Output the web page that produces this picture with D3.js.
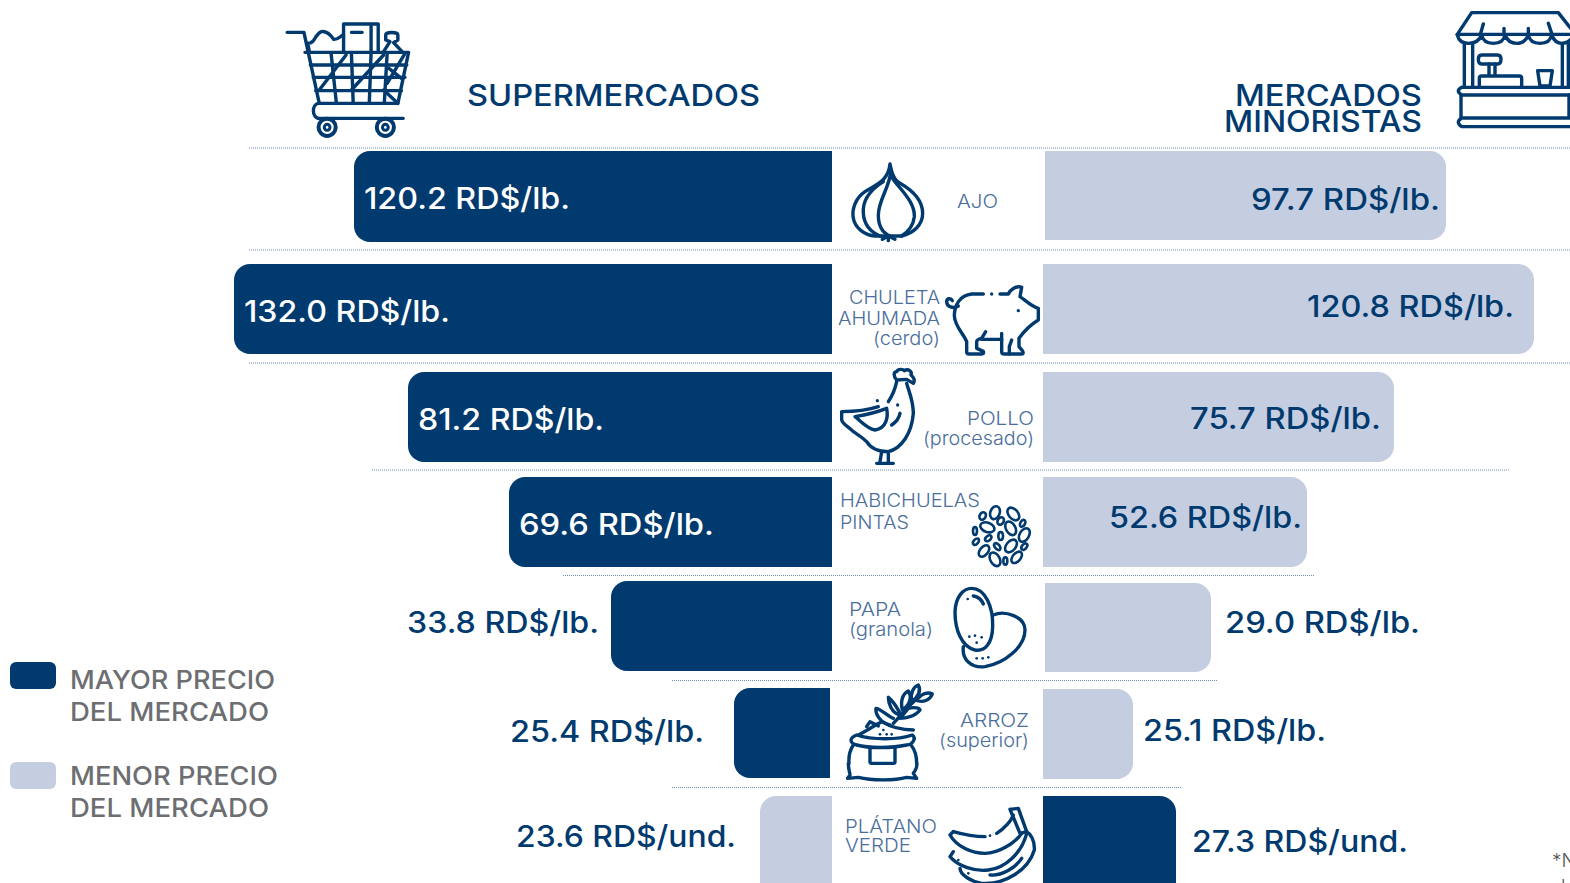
<!DOCTYPE html>
<html><head><meta charset="utf-8">
<script src="https://cdn.jsdelivr.net/npm/d3@7"></script>
<style>html,body{margin:0;background:#fff;overflow:hidden}svg{display:block}text{font-family:Inter,"Open Sans",sans-serif}</style>
</head><body><div id="c"></div>
<script>
// ---------- data ----------
const categories = ["AJO","CHULETA AHUMADA (cerdo)","POLLO (procesado)","HABICHUELAS PINTAS","PAPA (granola)","ARROZ (superior)","PLÁTANO VERDE"];
const supermercados = [120.2,132.0,81.2,69.6,33.8,25.4,23.6];
const minoristas = [97.7,120.8,75.7,52.6,29.0,25.1,27.3];
const unidades = ["RD$/lb.","RD$/lb.","RD$/lb.","RD$/lb.","RD$/lb.","RD$/lb.","RD$/und."];
const categoryLines = [["AJO"],["CHULETA","AHUMADA","(cerdo)"],["POLLO","(procesado)"],["HABICHUELAS","PINTAS"],["PAPA","(granola)"],["ARROZ","(superior)"],["PLÁTANO","VERDE"]];
const legendItems = [["MAYOR PRECIO","DEL MERCADO"],["MENOR PRECIO","DEL MERCADO"]];

// ---------- layout ----------
const W=1570,H=883,DARK="#003a6e",LIGHT="#c5cee1",LABEL="#4a6e9b",GREY="#6d6e72";
const svg=d3.select("#c").append("svg").attr("width",W).attr("height",H).attr("viewBox",`0 0 ${W} ${H}`);
// The source bars are not drawn to a common linear ratio: piecewise scales follow the picture.
const xL=d3.scaleLinear().domain([23.6,25.4,33.8,69.6,81.2,120.2,132.0]).range([760,734,611,509,408,354,234]);
const xR=d3.scaleLinear().domain([25.1,27.3,29.0,52.6,75.7,97.7,120.8]).range([1133,1176,1211,1307,1394,1446,1534]);
const baseL=d3.scaleOrdinal(categories,[832,832,832,832,832,830,832]);
const baseR=d3.scaleOrdinal(categories,[1045,1043,1043,1043,1045,1043,1043]);
const topL=d3.scaleOrdinal(categories,[151,264,372,477,581,688,796]);
const botL=d3.scaleOrdinal(categories,[242,354,462,567,671,778,905]);
const topR=d3.scaleOrdinal(categories,[151,264,372,477,583,689,796]);
const botR=d3.scaleOrdinal(categories,[240,354,462,567,672,779,905]);
const valPosL=[[364,209,206],[244,322,206],[418,430,186],[519,535,195],[407,633,192],[510,742,194],[516,847,220]];
const valPosR=[[1251,210,189],[1307,317,207],[1190,429,191],[1109,528,193],[1225,633,195],[1143,741,183],[1192,852,216]];
const labelPos=[
 {a:"start",x:957,y:[208],w:[41]},
 {a:"end",x:940,y:[304,325,345],w:[91,102,67]},
 {a:"end",x:1034,y:[425,445],w:[67,111]},
 {a:"start",x:840,y:[507,529],w:[140,69]},
 {a:"start",x:849,y:[616,636],w:[52,84]},
 {a:"end",x:1029,y:[727,747],w:[69,90]},
 {a:"start",x:845,y:[833,852],w:[92,66]}];
const seps=[[249,1570,148],[249,1570,250],[249,1570,363],[372,1509,470],[563,1315,575.5],[672,1217,680.5],[672,1181,787.5]];

// ---------- helpers ----------
function txt(s,x,y,size,weight,fill,w,anchor){
  const t=svg.append("text").attr("x",x).attr("y",y).attr("font-size",size).attr("font-weight",weight)
    .attr("fill",fill).attr("text-anchor",anchor||"start").text(s);
  if(w)t.attr("textLength",w).attr("lengthAdjust","spacingAndGlyphs");
  return t;
}
function barPath(x0,x1,y0,y1,r){ // x0 = square base, x1 = rounded end
  const p=d3.path();
  p.moveTo(x0,y0);p.arcTo(x1,y0,x1,y0+r,r);p.arcTo(x1,y1,x0,y1,r);p.lineTo(x0,y1);p.closePath();
  return p.toString();
}

// ---------- separators ----------
svg.append("g").selectAll("line").data(seps).join("line")
  .attr("x1",d=>d[0]).attr("x2",d=>d[1]).attr("y1",d=>d[2]).attr("y2",d=>d[2])
  .attr("stroke","#6f8bb5").attr("stroke-width",1).attr("stroke-dasharray","1 1");

// ---------- bars ----------
const rows=categories.map((c,i)=>({c,i,s:supermercados[i],m:minoristas[i],u:unidades[i]}));
svg.append("g").selectAll("path").data(rows).join("path")
  .attr("d",d=>barPath(baseL(d.c),xL(d.s),topL(d.c),botL(d.c),16))
  .attr("fill",d=>d.s>=d.m?DARK:LIGHT);
svg.append("g").selectAll("path").data(rows).join("path")
  .attr("d",d=>barPath(baseR(d.c),xR(d.m),topR(d.c),botR(d.c),16))
  .attr("fill",d=>d.m>d.s?DARK:LIGHT);

// ---------- value labels ----------
rows.forEach(d=>{
  const L=valPosL[d.i],R=valPosR[d.i];
  const inL=L[0]>xL(d.s);
  txt(`${d.s.toFixed(1)} ${d.u}`,L[0],L[1],30,500,inL?"#fff":DARK,L[2]);
  txt(`${d.m.toFixed(1)} ${d.u}`,R[0],R[1],30,500,DARK,R[2]);
});

// ---------- category labels ----------
categoryLines.forEach((ls,i)=>{
  const p=labelPos[i];
  ls.forEach((s,j)=>txt(s,p.x,p.y[j],18.5,300,LABEL,p.w[j],p.a));
});

// ---------- headers ----------
txt("SUPERMERCADOS",467,106,30,500,DARK,293);
txt("MERCADOS",1422,106,30,500,DARK,187,"end");
txt("MINORISTAS",1422,132,30,500,DARK,198,"end");

// ---------- legend ----------
[[662,DARK,689],[762,LIGHT,785]].forEach(([y,c,b],i)=>{
  svg.append("rect").attr("x",10).attr("y",y).attr("width",46).attr("height",27).attr("rx",6).attr("fill",c);
  txt(legendItems[i][0],70,b,26,500,GREY,i?208:205);
  txt(legendItems[i][1],70,b+32,26,500,GREY,199);
});

// ---------- clipped footnote ----------
txt("*Nota",1552,867,19,300,"#555");
txt("l",1561,893,19,300,"#555");

// ---------- icons ----------
const SW=3.4;
function icon(tx,ty,sx,sy,paths,extra){
  const g=svg.append("g").attr("transform",`translate(${tx},${ty}) scale(${sx},${sy})`)
    .attr("fill","none").attr("stroke",DARK).attr("stroke-linecap","round").attr("stroke-linejoin","round");
  paths.forEach(d=>g.append("path").attr("d",d).attr("vector-effect","non-scaling-stroke").attr("stroke-width",SW));
  if(extra)extra(g);
  return g;
}
function dots(g,list,r){list.forEach(([x,y])=>g.append("circle").attr("cx",x).attr("cy",y).attr("r",r||5).attr("fill",DARK).attr("stroke","none"));}

// cart
icon(230,0,1/2.8,1/3,[
 "M160 97H207L250 310H470L500 157H210",
 "M250 310C228 310 228 355 250 355H485",
 "M225 195H495M233 232H490M240 272H480",
 "M283 160L298 310M340 160L345 310M395 160L390 310M440 160L432 310M490 160L440 250",
 "M325 165L250 270M430 165L340 270M445 205L480 235M430 270L470 310",
 "M318 155V72H415V155M395 72V155M340 97H370",
 "M218 130C240 130 235 105 255 95C275 92 285 110 290 118C305 120 310 105 318 105M218 130L222 155",
 "M430 155L448 125L436 120V105C436 95 470 95 470 105V120L458 128L482 155"
],g=>{
 [272,435].forEach(x=>{
  g.append("ellipse").attr("cx",x).attr("cy",382).attr("rx",24).attr("ry",26).attr("vector-effect","non-scaling-stroke").attr("stroke-width",4);
  g.append("ellipse").attr("cx",x).attr("cy",382).attr("rx",8).attr("ry",9).attr("vector-effect","non-scaling-stroke").attr("stroke-width",3);
 });
});
// stall
icon(1200,0,1/3,1/3,[
 "M772 103L815 38H1075L1120 95",
 "M772 103H1120",
 "M772 105Q778 130 805 130Q835 130 845 105Q850 130 880 130Q910 130 915 105Q925 130 950 130Q975 130 985 105Q990 130 1020 130Q1050 130 1055 105Q1065 130 1085 130Q1110 130 1120 105",
 "M850 72L842 100M912 85V100M985 85V100M1045 70L1055 100",
 "M793 130V262M818 130V262M1087 130V262M1105 130V262",
 "M845 165H893Q903 165 903 178Q903 192 893 192H845Q835 192 835 178Q835 165 845 165Z",
 "M867 192V228M885 192V228M838 258V235Q838 228 845 228H958Q965 228 965 235V258",
 "M1013 212H1057L1050 258H1020Z",
 "M785 262H1120M785 262Q765 273 785 285H1120",
 "M783 285V352M1107 285V352",
 "M785 354H1120M785 354Q765 367 785 380H1120"
]);
// garlic
icon(825,150,1/3,1/3,[
 "M195 42C190 95 150 105 120 125C90 145 80 180 85 205C90 235 120 255 150 258H230C265 250 293 225 293 190C293 150 260 120 225 100C205 90 200 65 195 42Z",
 "M175 95C135 120 112 150 115 190C117 220 135 245 165 258",
 "M197 65C195 110 160 150 160 195C160 230 175 250 195 258",
 "M200 80C215 110 270 150 268 200C265 230 250 245 230 258",
 "M190 258V272M190 258L172 268M190 258L210 268"
]);
// pig
icon(825,150,1/3,1/3,[
 "M400 468C385 478 365 470 365 455C365 445 378 443 382 452",
 "M475 432H440C405 436 388 465 388 498C390 530 415 550 425 575V605Q425 612 433 612H470Q478 612 475 604L455 595V575Q455 568 470 565L482 545",
 "M470 568H530",
 "M530 550V605Q530 612 538 612H590Q598 612 592 602L582 590V565C600 540 615 525 640 510V475C620 470 600 450 585 440L590 412C575 405 555 420 550 432H525",
 "M560 570L553 590V612"
],g=>dots(g,[[500,432],[580,482]],5));
// chicken
icon(825,150,1/3,1/3,[
 "M215 695C210 720 200 740 190 755",
 "M50 785C80 785 130 780 160 770M50 785V810C55 825 70 830 85 845C100 855 110 860 125 875C140 900 170 905 190 905C230 895 260 850 265 790C265 750 250 720 245 700",
 "M215 690C205 680 205 665 215 665C220 655 235 658 238 662C250 655 262 665 258 675C270 685 268 695 265 700L245 688Z",
 "M90 800C120 795 160 785 185 775C190 800 185 835 150 840C125 835 110 815 90 800Z",
 "M225 790C222 805 215 815 200 825",
 "M170 905L165 935M190 905V935M155 940H205"
],g=>dots(g,[[157,752],[218,765]],5));
// beans
icon(825,470,1/3,1/3,[],g=>{
 [[510,128,14,20,20],[565,132,14,22,-40],[473,138,9,12,30],[527,153,9,12,30],[593,160,7,11,30],[487,172,22,14,20],[557,175,14,22,-30],[598,195,14,22,30],[450,183,6,12,0],[527,198,7,12,0],[490,205,11,7,-40],[453,215,7,11,40],[558,228,14,22,40],[517,230,7,12,-40],[598,230,7,11,40],[477,243,12,20,40],[510,268,14,22,-30],[541,273,6,11,0],[575,262,12,20,40]]
 .forEach(([x,y,a,b,r])=>g.append("ellipse").attr("transform",`rotate(${r} ${x} ${y})`).attr("cx",x).attr("cy",y).attr("rx",a).attr("ry",b).attr("vector-effect","non-scaling-stroke").attr("stroke-width",2.6));
});
// potato
icon(825,470,1/3,1/3,[
 "M440 355C480 355 505 410 503 470C502 520 480 545 450 540C410 530 390 480 390 425C392 380 415 355 440 355Z",
 "M505 435C540 420 600 440 600 480C600 530 540 580 480 590C440 595 410 570 415 530",
 "M445 378C460 380 470 390 475 402"
],g=>dots(g,[[428,387],[433,500],[450,497],[470,502],[455,518],[455,565],[473,565],[490,562]],4));
// rice sack
icon(825,470,1/3,1/3,[
 "M95 795C140 810 220 810 262 795C275 805 262 825 245 825C200 835 130 835 95 825C75 820 70 805 95 795Z",
 "M100 795C130 780 150 765 170 755C195 770 230 780 265 780",
 "M85 825C75 840 70 855 72 880M258 825C270 840 275 860 275 880",
 "M70 880C70 900 75 908 75 915L68 925L100 922C140 932 210 932 245 922L275 925L265 910C272 900 278 890 275 880",
 "M135 832V875Q135 880 140 880H205Q210 880 210 875V832",
 "M205 760C230 735 255 700 285 680",
 "M232 720C225 690 235 670 250 663C262 680 255 705 232 720Z",
 "M260 695C255 670 265 650 280 645C290 665 280 680 260 695Z",
 "M270 690C290 670 310 665 322 672C315 690 295 700 270 690Z",
 "M225 730C215 710 200 690 190 682C190 700 200 730 225 735",
 "M250 715C270 710 285 715 285 720C270 740 240 745 225 745Z",
 "M205 745C190 740 165 715 153 715C150 735 170 760 195 765",
 "M125 770L135 755L160 768"
],g=>dots(g,[[175,780],[165,793],[185,793],[200,793]],4));
// banana
icon(825,470,1/3,1/3,[
 "M555 1018L580 1015L605 1085L585 1090ZM555 1018L585 1090",
 "M385 1085C420 1095 455 1100 480 1100M515 1090C540 1075 560 1050 565 1035",
 "M385 1085L375 1095C395 1130 440 1150 480 1150C520 1150 570 1120 590 1090",
 "M385 1145L375 1160C400 1190 450 1205 490 1200C540 1195 590 1150 605 1090",
 "M405 1195C405 1215 440 1235 470 1240C540 1245 610 1200 628 1140C630 1110 615 1090 605 1085",
 "M495 1215C530 1218 570 1195 590 1165"
],g=>dots(g,[[495,1097],[400,1170],[430,1210]],4));
</script></body></html>
